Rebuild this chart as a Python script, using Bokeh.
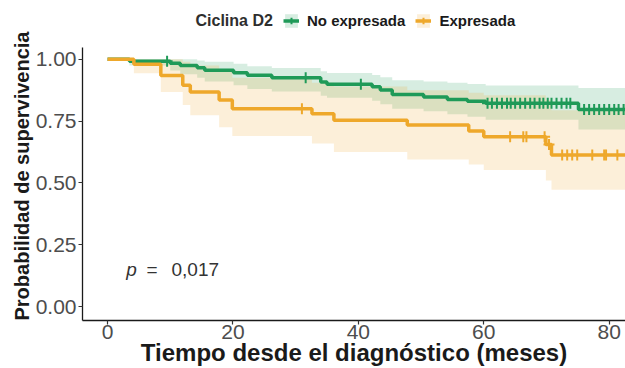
import numpy as np
from bokeh.plotting import figure
from bokeh.models import Range1d, Legend, LegendItem, Label, FixedTicker, Title
from bokeh.embed import file_html
from bokeh.resources import INLINE

# ---------------- data ----------------
group_title = "Ciclina D2"
group_labels = ["No expresada", "Expresada"]

# No expresada: Kaplan-Meier step function (time in months, survival) + 95% CI
g_time = [0, 3.5, 10.0, 11.6, 14.3, 15.5, 20.1, 22.3, 26.2, 34.0, 35.0, 42.2, 43.5, 45.4,
          50.4, 54.2, 57.4, 60.3, 75.1, 86.0]
g_surv = [1.0, 0.992, 0.984, 0.975, 0.966, 0.956, 0.946, 0.936, 0.926, 0.908, 0.899, 0.889,
          0.876, 0.858, 0.848, 0.838, 0.830, 0.822, 0.797, 0.797]
g_lower = [1.0, 0.975, 0.955, 0.940, 0.925, 0.910, 0.895, 0.880, 0.870, 0.853, 0.845, 0.832,
           0.818, 0.800, 0.790, 0.778, 0.768, 0.756, 0.716, 0.716]
g_upper = [1.0, 1.0, 1.0, 1.0, 0.995, 0.990, 0.982, 0.972, 0.965, 0.952, 0.945, 0.937,
           0.928, 0.915, 0.910, 0.905, 0.900, 0.894, 0.884, 0.884]
g_cens = [9.5, 31.6, 40.4, 60.6, 61.3, 62.1, 62.9, 63.7, 64.3, 65.0, 65.8, 66.6, 67.4, 68.1,
          68.9, 69.5, 70.2, 70.8, 71.6, 72.4, 73.2, 73.8, 76.0, 76.8, 77.6, 78.4, 79.2, 80.0,
          80.8, 81.5, 82.3]

# Expresada
o_time = [0, 4.2, 8.5, 12.0, 13.2, 17.8, 19.9, 32.6, 36.1, 47.8, 57.6, 60.0, 69.9, 70.8, 86.0]
o_surv = [1.0, 0.980, 0.935, 0.895, 0.868, 0.835, 0.800, 0.780, 0.754, 0.734, 0.710, 0.687,
          0.655, 0.613, 0.613]
o_lower = [1.0, 0.944, 0.868, 0.815, 0.774, 0.725, 0.690, 0.660, 0.625, 0.595, 0.575, 0.552,
           0.510, 0.472, 0.472]
o_upper = [1.0, 1.0, 1.0, 0.990, 0.975, 0.960, 0.925, 0.905, 0.890, 0.875, 0.865, 0.855,
           0.835, 0.794, 0.794]
o_cens = [31.0, 64.2, 66.3, 66.8, 69.7, 70.4, 72.5, 73.3, 74.1, 74.9, 77.3, 79.2, 79.5, 81.3]

p_value_text = "0,017"
x_ticks = [0, 20, 40, 60, 80]
y_ticks = [0.0, 0.25, 0.50, 0.75, 1.0]
y_tick_labels = ["0.00", "0.25", "0.50", "0.75", "1.00"]

GREEN = "#1f9a58"
ORANGE = "#eea82b"
FONT = "Liberation Sans"

Y_PANEL_TOP = 1.048   # top of the data panel (legend sits above it)
Y_MIN = -0.0565


def step_at(times, survs, t):
    idx = np.searchsorted(np.asarray(times), np.asarray(t), side="right") - 1
    return [float(v) for v in np.asarray(survs)[idx]]


p = figure(width=625, height=368, output_backend="svg", toolbar_location=None,
           x_range=Range1d(-3.99, 82.6), y_range=Range1d(Y_MIN, 1.238),
           min_border_left=82, min_border_right=0, min_border_top=0, min_border_bottom=47)
p.outline_line_color = None
p.xgrid.grid_line_color = None
p.ygrid.grid_line_color = None

# bands
gb = p.varea_step(x=g_time, y1=g_lower, y2=g_upper, step_mode="after",
                  fill_color=GREEN, fill_alpha=0.18)
ob = p.varea_step(x=o_time, y1=o_lower, y2=o_upper, step_mode="after",
                  fill_color=ORANGE, fill_alpha=0.18)
# curves
gl = p.step(g_time, g_surv, mode="after", line_color=GREEN, line_width=3.5)
ol = p.step(o_time, o_surv, mode="after", line_color=ORANGE, line_width=3.5)
# censor marks
gc = p.scatter(g_cens, step_at(g_time, g_surv, g_cens), marker="cross", size=11,
               line_color=GREEN, line_width=2)
oc = p.scatter(o_cens, step_at(o_time, o_surv, o_cens), marker="cross", size=11,
               line_color=ORANGE, line_width=2)

# axes
for ax in (p.xaxis[0], p.yaxis[0]):
    ax.axis_line_color = "#1a1a1a"
    ax.axis_line_width = 1.3
    ax.major_tick_line_color = "#333333"
    ax.major_tick_line_width = 1.2
    ax.major_tick_in = 0
    ax.major_tick_out = 4
    ax.minor_tick_line_color = None
    ax.major_label_text_font = FONT
    ax.major_label_text_font_size = "21px"
    ax.major_label_text_color = "#4d4d4d"
    ax.major_label_standoff = 2
    ax.axis_label_text_font = FONT
    ax.axis_label_text_font_style = "bold"
    ax.axis_label_text_color = "#1a1a1a"

p.xaxis[0].ticker = FixedTicker(ticks=x_ticks)
p.yaxis[0].ticker = FixedTicker(ticks=y_ticks)
p.yaxis[0].bounds = (Y_MIN, Y_PANEL_TOP)
p.yaxis[0].major_label_overrides = dict(zip(y_ticks, y_tick_labels))
p.xaxis[0].axis_label = "Tiempo desde el diagnóstico (meses)"
p.xaxis[0].axis_label_text_font_size = "24px"
p.xaxis[0].major_label_standoff = 0
p.xaxis[0].axis_label_standoff = -3

# y-axis title, aligned with the data panel (below the legend area)
p.add_layout(Title(text="Probabilidad de supervivencia", align="left", offset=0,
                   standoff=0, text_font=FONT, text_font_size="20px",
                   text_font_style="bold", text_color="#1a1a1a"), "left")

# p-value annotation
p.add_layout(Label(x=3.0, y=0.149, text="p", text_font=FONT, text_font_style="italic",
                   text_font_size="19px", text_color="#333333", text_baseline="middle"))
p.add_layout(Label(x=6.2, y=0.149, text="=", text_font=FONT,
                   text_font_size="19px", text_color="#333333", text_baseline="middle"))
p.add_layout(Label(x=10.2, y=0.149, text=p_value_text, text_font=FONT,
                   text_font_size="19px", text_color="#333333", text_baseline="middle"))

# legend title and legend, above the data panel
p.add_layout(Label(x=113, y=300, x_units="screen", y_units="screen", text=group_title,
                   text_font=FONT, text_font_size="16px", text_font_style="bold",
                   text_color="#2e2e2e", text_baseline="middle"))

legend = Legend(items=[LegendItem(label=group_labels[0], renderers=[gb, gl, gc]),
                       LegendItem(label=group_labels[1], renderers=[ob, ol, oc])],
                orientation="horizontal", location=(201, 291),
                label_text_font=FONT, label_text_font_size="15px",
                label_text_font_style="bold", label_text_color="#1a1a1a",
                glyph_width=16, glyph_height=17, label_standoff=8, spacing=10,
                padding=0, margin=0, border_line_color=None, background_fill_alpha=0)
p.add_layout(legend)

open("out.html", "w").write(file_html(p, INLINE))
